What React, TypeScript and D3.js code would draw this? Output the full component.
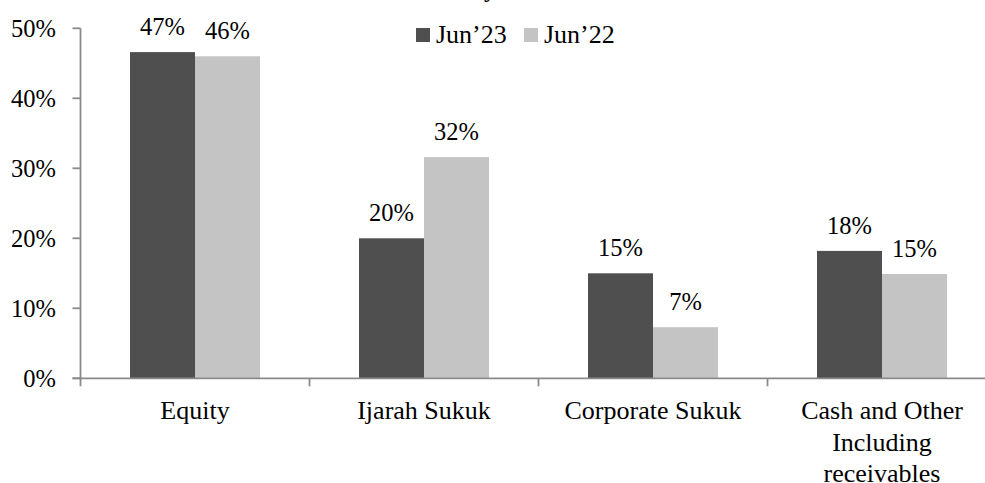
import { scaleBand, scaleLinear } from "d3";

const categories = ["Equity", "Ijarah Sukuk", "Corporate Sukuk", "Cash and Other\nIncluding\nreceivables"];
const seriesNames = ["Jun’23", "Jun’22"];
const jun23 = [46.6, 20.0, 15.0, 18.2];
const jun22 = [46.0, 31.6, 7.3, 14.9];
const labels23 = ["47%", "20%", "15%", "18%"];
const labels22 = ["46%", "32%", "7%", "15%"];
const yTicks = [0, 10, 20, 30, 40, 50];

const width = 985;
const height = 483;
const plotLeft = 80.5;
const plotRight = 996.5;
const plotTop = 28.3;
const plotBottom = 378.3;
const barGap = 49.5;
const colors = ["#4f4f4f", "#c4c4c4"];
const axisColor = "#8a8a8a";
const font = "Liberation Serif, Times New Roman, serif";

function App() {
  const x0 = scaleBand<string>().domain(categories).range([plotLeft, plotRight]).padding(0);
  const x1 = scaleBand<string>()
    .domain(seriesNames)
    .range([barGap, x0.bandwidth() - barGap])
    .padding(0);
  const y = scaleLinear().domain([0, 50]).range([plotBottom, plotTop]);
  const series = [
    { name: seriesNames[0], values: jun23, labels: labels23, color: colors[0] },
    { name: seriesNames[1], values: jun22, labels: labels22, color: colors[1] }
  ];

  return (
    <svg
      width={width}
      height={height}
      style={{ position: "absolute", left: 0, top: 0, background: "#fff", fontFamily: font }}
    >
      <rect x={0} y={0} width={width} height={height} fill="#fff" />
      {/* title cut off at the top edge */}
      <text x={490} y={-3} fontSize={24} fontWeight="bold" textAnchor="middle" fill="#000">
        y
      </text>

      {series.map((s) =>
        categories.map((cat, i) => {
          const bx = (x0(cat) ?? 0) + (x1(s.name) ?? 0);
          const by = y(s.values[i]);
          return (
            <g key={`${s.name}-${cat}`}>
              <rect x={bx} y={by} width={x1.bandwidth()} height={plotBottom - by} fill={s.color} />
              <text
                x={bx + x1.bandwidth() / 2}
                y={by - 17}
                fontSize={24.5}
                textAnchor="middle"
                fill="#000"
              >
                {s.labels[i]}
              </text>
            </g>
          );
        })
      )}

      {/* y axis */}
      <line x1={plotLeft} x2={plotLeft} y1={plotTop} y2={plotBottom} stroke={axisColor} strokeWidth={1.8} />
      {yTicks.map((t) => (
        <g key={t}>
          <line x1={plotLeft - 8} x2={plotLeft} y1={y(t)} y2={y(t)} stroke={axisColor} strokeWidth={1.8} />
          <text x={56} y={y(t) + 9} fontSize={24.5} textAnchor="end" fill="#000">
            {`${t}%`}
          </text>
        </g>
      ))}

      {/* x axis */}
      <line x1={plotLeft - 8} x2={plotRight} y1={plotBottom} y2={plotBottom} stroke={axisColor} strokeWidth={1.8} />
      {categories.map((cat) => (
        <line
          key={`tick-${cat}`}
          x1={x0(cat) ?? 0}
          x2={x0(cat) ?? 0}
          y1={plotBottom}
          y2={plotBottom + 8}
          stroke={axisColor}
          strokeWidth={1.8}
        />
      ))}
      {categories.map((cat) => (
        <text
          key={`label-${cat}`}
          x={(x0(cat) ?? 0) + x0.bandwidth() / 2}
          y={419}
          fontSize={26}
          textAnchor="middle"
          fill="#000"
        >
          {cat.split("\n").map((part, j) => (
            <tspan key={j} x={(x0(cat) ?? 0) + x0.bandwidth() / 2} dy={j === 0 ? 0 : 31.7}>
              {part}
            </tspan>
          ))}
        </text>
      ))}

      {/* legend */}
      {series.map((s, i) => {
        const lx = i === 0 ? 416 : 524;
        return (
          <g key={`legend-${s.name}`}>
            <rect x={lx} y={28} width={14} height={14} fill={s.color} />
            <text x={lx + 20} y={43} fontSize={26} fill="#000">
              {s.name}
            </text>
          </g>
        );
      })}
    </svg>
  );
}

export default App;
